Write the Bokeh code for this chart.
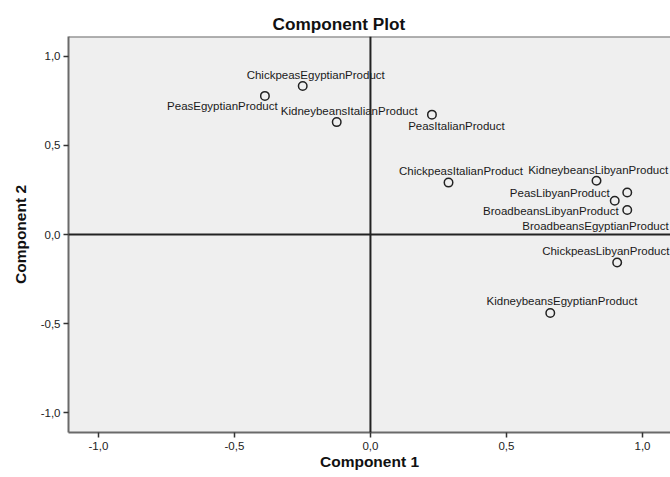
from bokeh.plotting import figure
from bokeh.models import Range1d, FixedTicker, ColumnDataSource, LabelSet, Span
from bokeh.core.properties import value
from bokeh.embed import file_html
from bokeh.resources import INLINE

# ---- data ----
names = [
    "ChickpeasEgyptianProduct", "PeasEgyptianProduct", "KidneybeansItalianProduct",
    "PeasItalianProduct", "ChickpeasItalianProduct", "KidneybeansLibyanProduct",
    "PeasLibyanProduct", "BroadbeansLibyanProduct", "BroadbeansEgyptianProduct",
    "ChickpeasLibyanProduct", "KidneybeansEgyptianProduct",
]
comp1 = [-0.249, -0.388, -0.124, 0.226, 0.287, 0.831, 0.898, 0.944, 0.944, 0.907, 0.661]
comp2 = [0.833, 0.777, 0.630, 0.672, 0.291, 0.301, 0.189, 0.137, 0.235, -0.157, -0.440]

tick_values = [-1.0, -0.5, 0.0, 0.5, 1.0]
tick_labels = ["-1,0", "-0,5", "0,0", "0,5", "1,0"]

# label placement (pixels, relative to each point)
label_dx = [13, -42.5, 12.5, 24.5, 12.5, 1.7, -55, -76.4, -31.8, -11.4, 11.7]
label_dy = [11, -10, 11, -11.5, 12, 11, 8, -1, -33.3, 11.7, 11.6]

X_MIN, X_MAX = -1.11, 1.103
Y_MIN, Y_MAX = -1.11, 1.11

FONT = "Liberation Sans"
BORDER = "#6a6a6a"

p = figure(width=670, height=477,
           x_range=Range1d(X_MIN, X_MAX), y_range=Range1d(Y_MIN, Y_MAX),
           output_backend="svg", toolbar_location=None,
           min_border_left=68, min_border_right=0,
           min_border_top=36, min_border_bottom=45,
           title="Component Plot")

p.background_fill_color = "#efefef"
p.border_fill_color = "white"
p.outline_line_color = None
p.grid.visible = False

p.title.text_font = FONT
p.title.text_font_size = "17.2px"
p.title.text_font_style = "bold"
p.title.text_color = "#111111"
p.title.align = "left"
p.title.offset = 204
p.title.standoff = 6

for ax in (p.xaxis[0], p.yaxis[0]):
    ax.ticker = FixedTicker(ticks=tick_values)
    ax.major_label_overrides = dict(zip(tick_values, tick_labels))
    ax.major_label_text_font = FONT
    ax.major_label_text_font_size = "11.5px"
    ax.major_label_text_color = "#222222"
    ax.axis_line_color = BORDER
    ax.axis_line_width = 2
    ax.major_tick_line_color = "#333333"
    ax.major_tick_line_width = 1.5
    ax.major_tick_out = 5
    ax.major_tick_in = 0
    ax.minor_tick_line_color = None
    ax.axis_label_text_font = FONT
    ax.axis_label_text_font_style = "bold"
    ax.axis_label_text_font_size = "15.5px"
    ax.axis_label_text_color = "#111111"

p.xaxis.axis_label = "Component 1"
p.yaxis.axis_label = "Component 2"
p.xaxis.major_label_standoff = 4
p.xaxis.axis_label_standoff = 0
p.yaxis.major_label_standoff = 3
p.yaxis.axis_label_standoff = 9
p.yaxis.major_label_orientation = "horizontal"

# top border of the plot frame
p.add_layout(Span(location=Y_MAX, dimension="width", line_color=BORDER, line_width=2))
# zero lines
p.add_layout(Span(location=0, dimension="width", line_color="#222222", line_width=2))
p.add_layout(Span(location=0, dimension="height", line_color="#222222", line_width=2))

src = ColumnDataSource(dict(x=comp1, y=comp2, name=names, dx=label_dx, dy=label_dy))
p.scatter("x", "y", source=src, marker="circle", size=8.5,
          fill_color=None, line_color="#222222", line_width=1.5)

labels = LabelSet(x="x", y="y", text="name", source=src,
                  x_offset="dx", y_offset="dy",
                  text_align="center", text_baseline="middle",
                  text_font=value(FONT), text_font_size=value("11.5px"),
                  text_color="#1a1a1a")
p.add_layout(labels)

open("out.html", "w").write(file_html(p, INLINE))
